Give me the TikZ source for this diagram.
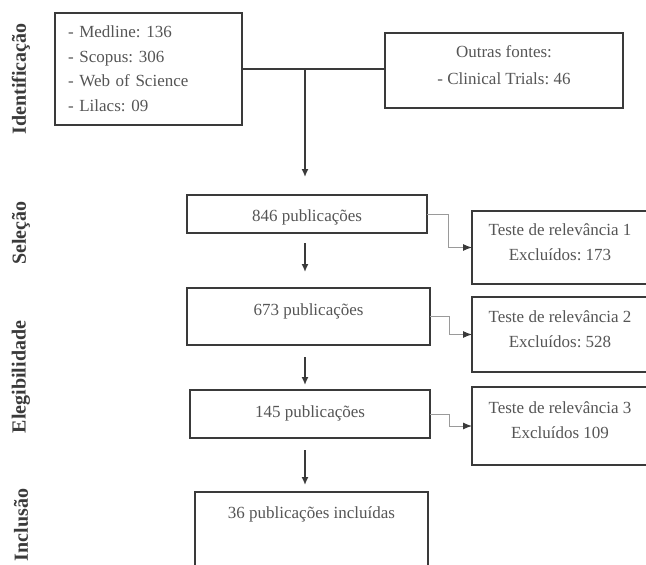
\documentclass[tikz,border=0pt]{standalone}
\usepackage{fontspec}
\setmainfont{Liberation Serif}
\usepackage{tikz}
\usetikzlibrary{positioning, arrows.meta}
\definecolor{boxline}{HTML}{3A3A3A}
\definecolor{boxtext}{HTML}{555555}
\definecolor{elbowgray}{HTML}{9A9A9A}
\frenchspacing
\tikzset{
	stage/.style= {
		rectangle,
		draw=boxline,
		line width=1.8pt,
		text=boxtext,
		align=center,
		font={\fontsize{17}{25}\selectfont},
		anchor=north west,
		inner xsep=0,
		inner ysep=0,
		outer sep=0
	},
	phase/.style= {
		rotate=90,
		text=boxline,
		font={\fontsize{20}{22}\selectfont\bfseries}
	},
	flow/.style= {
		draw=boxline,
		line width=1.5pt,
		-{Latex[length=8pt, width=7pt]}
	},
	elbow/.style= {
		draw=elbowgray,
		line width=1pt,
		-{Latex[length=9pt, width=7pt, color=boxline]}
	},
}

\begin{document}
\begin{tikzpicture}[x=1pt, y=-1pt]
		\useasboundingbox (0,0) rectangle (646,565);
		\coordinate (spine) at (305,0);
		
		% identificacao
		\node (src) [stage, align=left, minimum width=187pt, text width=161pt,
			text height=24.5pt, text depth=87.5pt, font={\fontsize{17}{24.7}\selectfont}] at (55,13) {- Medline: 136\\ - Scopus: 306\\ - Web of Science\\ - Lilacs: 09};
		\node (other) [stage, minimum width=238pt, text height=51.5pt, text depth=23.5pt,
			font={\fontsize{17}{27}\selectfont}] at (385,33) {Outras fontes:\\ - Clinical Trials: 46};
		
		% selecao e elegibilidade
		\node (pub846) [stage, minimum width=240pt, text height=26pt, text depth=12pt] at (187,195) {846 publicações};
		\node (pub673) [stage, minimum width=243pt, text height=27pt, text depth=30pt] at (187,288) {673 publicações};
		\node (pub145) [stage, minimum width=240pt, text height=27pt, text depth=21pt] at (190,390) {145 publicações};
		\node (pub36) [stage, minimum width=233pt, text height=26pt, text depth=60pt] at (195,492) {36 publicações incluídas};
		
		\node (test1) [stage, minimum width=176pt, text height=49.5pt, text depth=23.5pt] at (472,211) {Teste de relevância 1\\ Excluídos: 173};
		\node (test2) [stage, minimum width=176pt, text height=50.5pt, text depth=24.5pt] at (472,297) {Teste de relevância 2\\ Excluídos: 528};
		\node (test3) [stage, minimum width=176pt, text height=51.5pt, text depth=26.5pt] at (472,387) {Teste de relevância 3\\ Excluídos 109};
		
		% fases
		\node (phaseid) [phase] at (21,79) {Identificação};
		\node (phasesel) [phase] at (21,233) {Seleção};
		\node (phaseeleg) [phase] at (21,377) {Elegibilidade};
		\node (phaseinc) [phase] at (21,525) {Inclusão};
		
		\draw[draw=boxline, line width=1.5pt] (src.east) to (src.east -| other.west);
		\draw[flow, shorten >=18pt] (src.east -| spine) to (pub846.north -| spine);
		\draw[flow, shorten <=10pt, shorten >=16pt] (pub846.south -| spine) to (pub673.north -| spine);
		\draw[flow, shorten <=12pt, shorten >=5pt] (pub673.south -| spine) to (pub145.north -| spine);
		\draw[flow, shorten <=12pt, shorten >=7pt] (pub145.south -| spine) to (pub36.north -| spine);
		
		\draw[elbow] (pub846.east) -- ++(21,0) |- (test1.west);
		\draw[elbow] (pub673.east) -- ++(19,0) |- (test2.west);
		\draw[elbow] (pub145.east) -- ++(19,0) |- (test3.west);
\end{tikzpicture}
\end{document}
